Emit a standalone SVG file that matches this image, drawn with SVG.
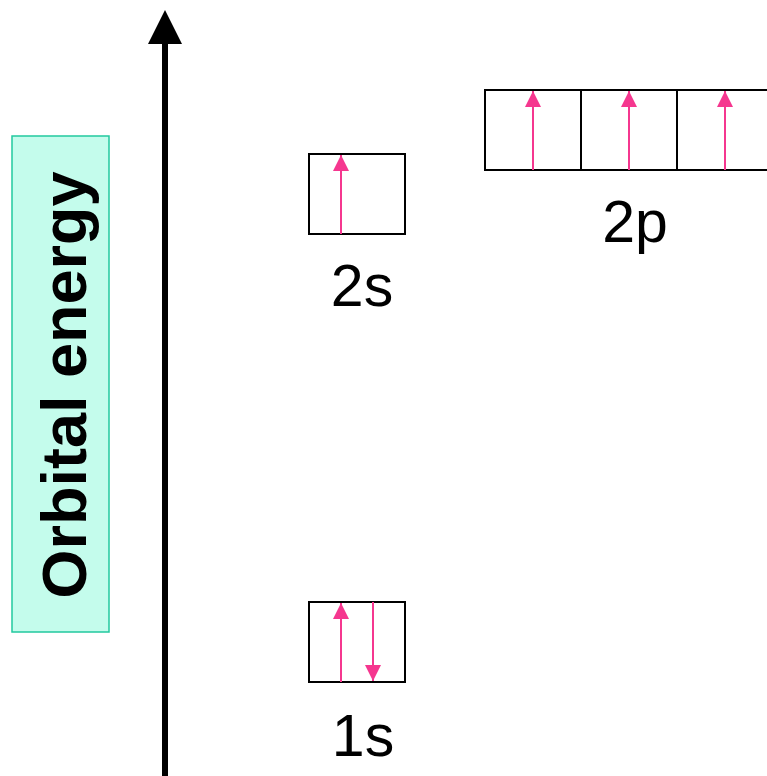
<svg xmlns="http://www.w3.org/2000/svg" width="767" height="776" viewBox="0 0 767 776">
<style>
.box{fill:#fff;stroke:#000;stroke-width:2}
.spin{stroke:#f5378f;stroke-width:2;fill:none}
.lbl{font-family:"Liberation Sans",Arial,sans-serif;font-size:59px;fill:#000;text-anchor:middle}
</style>
<defs>
<marker id="sh" markerWidth="16" markerHeight="16" viewBox="0 0 16 16" refX="16" refY="8" orient="auto" markerUnits="userSpaceOnUse">
<path d="M0,0 L16,8 L0,16 Z" fill="#f5378f"/>
</marker>
</defs>
<rect width="767" height="776" fill="#fff"/>
<g id="axis-label">
<rect x="12" y="136" width="97" height="496" fill="#c4fcec" stroke="#22c99f" stroke-width="1.5"/>
<text transform="translate(86,385) rotate(-90)" font-family="Liberation Sans,Arial,sans-serif" font-weight="bold" font-size="63" text-anchor="middle">Orbital energy</text>
</g>
<g id="connectors">
<line x1="165" y1="776" x2="165" y2="40" stroke="#000" stroke-width="6"/>
<polygon points="165,10 148,44 182,44" fill="#000"/>
</g>
<g id="orbital-2s">
<rect class="box" x="309" y="154" width="96" height="80"/>
<line class="spin" x1="341" y1="234" x2="341" y2="155" marker-end="url(#sh)"/>
<text class="lbl" x="362" y="306">2s</text>
</g>
<g id="orbital-2p">
<rect class="box" x="485" y="90" width="96" height="80"/>
<rect class="box" x="581" y="90" width="96" height="80"/>
<rect class="box" x="677" y="90" width="96" height="80"/>
<line class="spin" x1="533" y1="170" x2="533" y2="91" marker-end="url(#sh)"/>
<line class="spin" x1="629" y1="170" x2="629" y2="91" marker-end="url(#sh)"/>
<line class="spin" x1="725" y1="170" x2="725" y2="91" marker-end="url(#sh)"/>
<text class="lbl" x="635" y="242">2p</text>
</g>
<g id="orbital-1s">
<rect class="box" x="309" y="602" width="96" height="80"/>
<line class="spin" x1="341" y1="682" x2="341" y2="603" marker-end="url(#sh)"/>
<line class="spin" x1="373" y1="602" x2="373" y2="681" marker-end="url(#sh)"/>
<text class="lbl" x="363" y="756">1s</text>
</g>
</svg>
